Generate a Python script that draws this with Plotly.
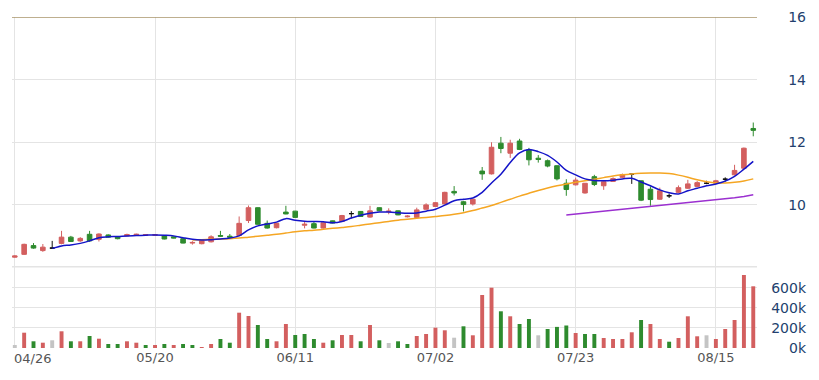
import plotly.graph_objects as go

# ---------------- data ----------------
idx = list(range(80))
tick_idx = [0, 15, 30, 45, 60, 75]
tick_txt = ["04/26", "05/20", "06/11", "07/02", "07/23", "08/15"]

open_ = [8.33, 8.42, 8.70, 8.54, 8.62, 8.77, 8.97, 8.85, 9.06, 8.90,
         9.04, 8.99, 9.01, 9.03, 9.03, 9.03, 9.01, 8.98, 8.92, 8.78,
         8.76, 8.82, 9.02, 9.00, 9.02, 9.50, 9.91, 9.41, 9.27, 9.77,
         9.80, 9.35, 9.40, 9.26, 9.49, 9.47, 9.72, 9.79, 9.61, 9.91,
         9.78, 9.81, 9.62, 9.60, 9.86, 9.95, 10.03, 10.43, 10.10, 10.03,
         11.08, 10.99, 11.97, 11.65, 12.04, 11.76, 11.49, 11.41, 11.25, 10.69,
         10.64, 10.38, 10.90, 10.61, 10.75, 10.88, 10.98, 10.77, 10.50, 10.18,
         10.29, 10.40, 10.53, 10.59, 10.69, 10.69, 10.82, 10.96, 11.17, 12.44]
high = [8.39, 8.76, 8.78, 8.75, 8.85, 9.17, 9.01, 8.97, 9.17, 9.09,
        9.06, 9.00, 9.08, 9.08, 9.06, 9.07, 9.03, 8.99, 8.93, 8.84,
        8.90, 9.03, 9.17, 9.07, 9.63, 9.98, 9.92, 9.50, 9.43, 9.97,
        9.81, 9.47, 9.47, 9.44, 9.50, 9.68, 9.80, 9.80, 9.97, 9.92,
        9.89, 9.82, 9.67, 9.91, 10.05, 10.09, 10.42, 10.60, 10.13, 10.19,
        11.21, 12.00, 12.17, 12.08, 12.11, 11.82, 11.59, 11.45, 11.26, 10.82,
        10.87, 10.69, 10.96, 10.78, 10.88, 11.00, 10.98, 10.78, 10.59, 10.55,
        10.36, 10.62, 10.80, 10.76, 10.77, 10.80, 10.88, 11.28, 11.83, 12.63]
low = [8.31, 8.40, 8.60, 8.50, 8.61, 8.74, 8.82, 8.82, 8.82, 8.83,
       8.95, 8.90, 9.00, 9.01, 9.01, 9.01, 8.90, 8.93, 8.77, 8.73,
       8.74, 8.80, 8.98, 8.96, 9.00, 9.42, 9.37, 9.24, 9.25, 9.70,
       9.59, 9.25, 9.25, 9.24, 9.41, 9.46, 9.57, 9.62, 9.59, 9.80,
       9.70, 9.67, 9.60, 9.58, 9.85, 9.94, 10.02, 10.30, 9.79, 9.98,
       10.80, 10.97, 11.65, 11.50, 11.75, 11.26, 11.35, 11.20, 10.78, 10.29,
       10.62, 10.36, 10.60, 10.48, 10.73, 10.86, 10.67, 10.12, 9.97, 10.16,
       10.22, 10.38, 10.51, 10.57, 10.66, 10.67, 10.74, 10.94, 11.15, 12.19]
close = [8.37, 8.74, 8.62, 8.65, 8.62, 8.97, 8.83, 8.93, 8.85, 9.07,
         8.97, 8.92, 9.05, 9.06, 9.05, 9.05, 8.91, 8.94, 8.78, 8.80,
         8.86, 8.98, 9.00, 8.97, 9.41, 9.91, 9.38, 9.26, 9.41, 9.71,
         9.60, 9.38, 9.26, 9.43, 9.42, 9.66, 9.72, 9.63, 9.81, 9.81,
         9.80, 9.68, 9.64, 9.84, 10.00, 10.07, 10.40, 10.38, 10.01, 10.18,
         10.99, 11.84, 11.80, 11.97, 11.77, 11.44, 11.45, 11.24, 10.83, 10.49,
         10.79, 10.69, 10.65, 10.74, 10.84, 10.97, 10.98, 10.15, 10.17, 10.45,
         10.29, 10.55, 10.67, 10.71, 10.69, 10.77, 10.82, 11.10, 11.81, 12.38]
# r = red (up), g = green (down), k = black (unchanged)
candle_col = list("rrgrkrgrgr" "ggrrrrgggr" "rrggrrggrg" "grgrgrkgrg"
                  "rgrrrrrggr" "grgrgggggg" "rrgrrrkggr" "krrrkrkrrg")

ma5 = [None, None, None, None, 8.61, 8.69, 8.72, 8.77, 8.85, 8.95,
       8.98, 8.99, 9.01, 9.02, 9.03, 9.04, 9.03, 9.01, 8.95, 8.90,
       8.88, 8.89, 8.91, 8.94, 9.01, 9.20, 9.33, 9.39, 9.45, 9.56,
       9.51, 9.48, 9.47, 9.46, 9.43, 9.47, 9.58, 9.67, 9.73, 9.77,
       9.77, 9.75, 9.73, 9.74, 9.80, 9.86, 9.99, 10.13, 10.18, 10.22,
       10.40, 10.70, 10.98, 11.35, 11.66, 11.77, 11.70, 11.58, 11.37, 11.10,
       10.96, 10.83, 10.78, 10.77, 10.79, 10.83, 10.85, 10.73, 10.61, 10.48,
       10.39, 10.35, 10.45, 10.53, 10.61, 10.67, 10.76, 10.91, 11.14, 11.39]
ma20 = [None] * 19 + [
    8.88, 8.89, 8.90, 8.91, 8.92, 8.94, 8.97, 9.00, 9.03, 9.06, 9.10,
    9.14, 9.17, 9.19, 9.22, 9.25, 9.28, 9.31, 9.35, 9.39, 9.43,
    9.47, 9.51, 9.54, 9.57, 9.60, 9.63, 9.66, 9.70, 9.75, 9.82,
    9.90, 9.98, 10.08, 10.18, 10.28, 10.37, 10.46, 10.54, 10.61, 10.67,
    10.72, 10.77, 10.82, 10.87, 10.92, 10.96, 10.99, 11.01, 11.02, 11.02,
    11.00, 10.95, 10.88, 10.80, 10.74, 10.70, 10.70, 10.72, 10.76, 10.83]
ma60 = [None] * 59 + [
    9.68, 9.71, 9.74, 9.77, 9.80, 9.83, 9.86, 9.89, 9.92, 9.95, 9.97,
    10.00, 10.03, 10.06, 10.09, 10.12, 10.15, 10.19, 10.23, 10.27, 10.32]

volume_k = [30, 153, 67, 53, 77, 167, 67, 67, 120, 93,
            40, 40, 67, 53, 30, 30, 40, 30, 40, 30,
            10, 40, 90, 53, 353, 320, 230, 90, 67, 240,
            130, 140, 90, 53, 77, 130, 130, 67, 230, 77,
            50, 67, 40, 120, 140, 203, 177, 103, 217, 127,
            530, 603, 367, 317, 240, 290, 127, 190, 211, 225,
            150, 140, 140, 100, 90, 90, 157, 280, 240, 90,
            63, 100, 317, 117, 127, 90, 190, 280, 730, 617]
volume = [v * 1000 for v in volume_k]
# r = up, g = down, k = unchanged (grey)
vol_col = list("krgrkrgrgr" "ggrrgrgrgg" "rrggrrggrr" "gggrgrrgrg"
               "kggrrrrkgr" "rrgrggkggg" "rggrrrrgrr" "grrrkrrrrr")

# ---------------- styling ----------------
RED = "#d35f5f"
GREEN = "#2e8b2e"
BLACK = "#111111"
GREY = "#c4c4c4"
cmap = {"r": RED, "g": GREEN, "k": BLACK}
vmap = {"r": RED, "g": GREEN, "k": GREY}
GRID = "#e4e4e4"
LBL = "#233f6e"

fig = go.Figure()

for key in ["r", "g", "k"]:
    sel = [i for i in idx if candle_col[i] == key]
    c = cmap[key]
    fig.add_trace(go.Candlestick(
        x=sel,
        open=[open_[i] for i in sel], high=[high[i] for i in sel],
        low=[low[i] for i in sel], close=[close[i] for i in sel],
        increasing=dict(line=dict(color=c, width=1), fillcolor=c),
        decreasing=dict(line=dict(color=c, width=1), fillcolor=c),
        whiskerwidth=0, xaxis="x", yaxis="y", showlegend=False, hoverinfo="skip"))

fig.add_trace(go.Scatter(x=idx, y=ma60, mode="lines", line=dict(color="#9b30d0", width=1.5),
                         xaxis="x", yaxis="y", showlegend=False, hoverinfo="skip"))
fig.add_trace(go.Scatter(x=idx, y=ma20, mode="lines", line=dict(color="#f5a623", width=1.5, shape="spline"),
                         xaxis="x", yaxis="y", showlegend=False, hoverinfo="skip"))
fig.add_trace(go.Scatter(x=idx, y=ma5, mode="lines", line=dict(color="#1414c8", width=1.5, shape="spline"),
                         xaxis="x", yaxis="y", showlegend=False, hoverinfo="skip"))

fig.add_trace(go.Bar(x=idx, y=volume, width=0.42, marker=dict(color=[vmap[c] for c in vol_col], line=dict(width=0)),
                     xaxis="x2", yaxis="y2", showlegend=False, hoverinfo="skip"))

# The page body has an 8px default margin, so the figure is sized 8px smaller.
XD = [0, 745 / 802]
POS = (798 - 4) / 802
font = "DejaVu Sans, Verdana, sans-serif"

fig.update_layout(
    width=811, height=372,
    margin=dict(l=4, r=5, t=9, b=32),
    paper_bgcolor="white", plot_bgcolor="white",
    font=dict(family=font),
    showlegend=False,
    xaxis=dict(domain=XD, range=[-0.3, 79.4], anchor="y", tickvals=tick_idx, showticklabels=False,
               showgrid=True, gridcolor=GRID, zeroline=False, showline=False, ticks="",
               automargin=False, rangeslider=dict(visible=False)),
    xaxis2=dict(domain=XD, range=[-0.3, 79.4], anchor="y2", matches="x", tickvals=tick_idx,
                ticktext=[""] + tick_txt[1:], showgrid=True, gridcolor=GRID, zeroline=False,
                showline=False, ticks="", automargin=False, tickfont=dict(size=13, color="#555555")),
    yaxis=dict(domain=[0.2432, 1], range=[8, 16], side="left", anchor="free", position=POS,
               tickvals=[8, 10, 12, 14, 16], ticktext=["", "10", "12", "14", "16"],
               showgrid=True, gridcolor=GRID, zeroline=False, showline=False, ticks="",
               automargin=False, tickfont=dict(size=14, color=LBL)),
    yaxis2=dict(domain=[0, 0.2417], range=[0, 800000], side="left", anchor="free", position=POS,
                tickvals=[0, 200000, 400000, 600000, 800000], ticktext=["0k", "200k", "400k", "600k", ""],
                showgrid=True, gridcolor=GRID, zeroline=False, showline=False, ticks="",
                automargin=False, tickfont=dict(size=14, color=LBL)),
    annotations=[dict(text=tick_txt[0], xref="x domain", yref="paper", x=0, y=0,
                      xanchor="left", yanchor="top", yshift=-1, showarrow=False,
                      font=dict(size=13, color="#555555", family=font))],
    shapes=[dict(type="line", xref="x domain", yref="y", x0=0, x1=1, y0=16, y1=16,
                 line=dict(color="#a8956a", width=1.5)),
            dict(type="line", xref="x domain", yref="y", x0=0, x1=1, y0=8, y1=8,
                 line=dict(color="#e4e4e4", width=3))],
)

fig.write_html("out.html")
